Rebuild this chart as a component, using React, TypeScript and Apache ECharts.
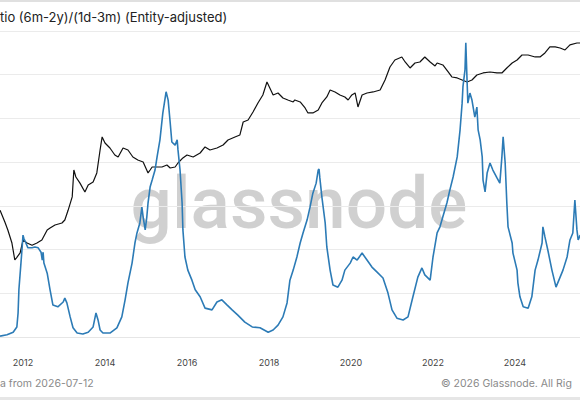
import React, { useEffect, useRef } from "react";
import * as echarts from "echarts";

// Bitcoin price (black, log scale)
const priceYears = [
  2011.44, 2011.56, 2011.63, 2011.73, 2011.8, 2011.85, 2011.93, 2012.0, 2012.1, 2012.22, 2012.34, 2012.46,
  2012.59, 2012.66, 2012.78, 2012.95, 2013.02, 2013.1, 2013.2, 2013.24, 2013.29, 2013.39, 2013.51, 2013.59,
  2013.71, 2013.8, 2013.88, 2013.93, 2014.0, 2014.12, 2014.24, 2014.32, 2014.44, 2014.56, 2014.68, 2014.8,
  2014.93, 2015.05, 2015.1, 2015.15, 2015.27, 2015.39, 2015.51, 2015.59, 2015.71, 2015.78, 2015.9, 2016.0,
  2016.15, 2016.32, 2016.44, 2016.56, 2016.73, 2016.88, 2017.0, 2017.17, 2017.29, 2017.37, 2017.49, 2017.61,
  2017.73, 2017.85, 2017.95, 2018.02, 2018.1, 2018.22, 2018.34, 2018.46, 2018.59, 2018.63, 2018.76, 2018.88,
  2018.95, 2019.07, 2019.2, 2019.29, 2019.41, 2019.49, 2019.61, 2019.73, 2019.85, 2019.93, 2020.02, 2020.1,
  2020.17, 2020.27, 2020.39, 2020.54, 2020.71, 2020.83, 2020.95, 2021.07, 2021.24, 2021.32, 2021.44, 2021.56,
  2021.68, 2021.8, 2021.93, 2022.05, 2022.1, 2022.24, 2022.37, 2022.46, 2022.59, 2022.71, 2022.83, 2022.95,
  2023.07, 2023.22, 2023.39, 2023.56, 2023.68, 2023.8, 2023.93, 2024.05, 2024.17, 2024.32, 2024.49, 2024.61,
  2024.73, 2024.85, 2024.98, 2025.1, 2025.22, 2025.34, 2025.51, 2025.59,
];
const priceValues = [
  26, 14, 9.4, 4.8, 2.0, 2.3, 2.9, 5.6, 4.8, 4.3, 4.8, 5.6,
  9.4, 10.4, 12.2, 13.5, 15.8, 26, 52, 208, 145, 106, 67, 96,
  112, 179, 585, 1146, 840, 649, 452, 407, 649, 585, 407, 349,
  315, 179, 208, 243, 243, 243, 270, 231, 243, 299, 388, 452,
  407, 501, 684, 585, 649, 757, 982, 1146, 1270, 2484, 2754, 4162,
  6622, 10024, 19590, 14388, 10024, 11092, 8570, 7730, 6976, 7730, 6976, 5118,
  3954, 3954, 4614, 6622, 9038, 12972, 11696, 10024, 9038, 7730, 10024, 11092,
  5384, 10024, 11092, 11696, 12972, 21728, 42460, 60960, 71200, 55000, 40360, 52240,
  55000, 71200, 55000, 44780, 52240, 47100, 32820, 25360, 24100, 21728, 19590, 21728,
  28120, 31180, 32820, 31180, 31180, 40360, 52240, 60960, 78900, 78900, 71200, 71200,
  87500, 119400, 119400, 113300, 102300, 132400, 146600, 146600,
];

// Ratio (6m-2y)/(1d-3m) (blue)
const ratioYears = [
  2011.44, 2011.61, 2011.76, 2011.85, 2011.88, 2011.9, 2011.95, 2011.98, 2012.0, 2012.02, 2012.07, 2012.12,
  2012.22, 2012.29, 2012.37, 2012.44, 2012.47, 2012.49, 2012.51, 2012.59, 2012.66, 2012.73, 2012.85, 2012.98,
  2013.02, 2013.07, 2013.15, 2013.22, 2013.32, 2013.46, 2013.59, 2013.71, 2013.78, 2013.83, 2013.88, 2013.95,
  2014.12, 2014.29, 2014.41, 2014.49, 2014.56, 2014.66, 2014.73, 2014.78, 2014.85, 2014.9, 2014.93, 2014.98,
  2015.02, 2015.05, 2015.1, 2015.15, 2015.22, 2015.27, 2015.34, 2015.41, 2015.49, 2015.54, 2015.59, 2015.63,
  2015.71, 2015.76, 2015.78, 2015.83, 2015.88, 2015.9, 2015.95, 2016.02, 2016.12, 2016.2, 2016.32, 2016.44,
  2016.61, 2016.73, 2016.85, 2016.98, 2017.1, 2017.24, 2017.41, 2017.59, 2017.78, 2017.98, 2018.1, 2018.22,
  2018.34, 2018.44, 2018.51, 2018.59, 2018.68, 2018.76, 2018.83, 2018.93, 2019.0, 2019.07, 2019.15, 2019.2,
  2019.22, 2019.24, 2019.29, 2019.37, 2019.41, 2019.49, 2019.56, 2019.68, 2019.78, 2019.85, 2019.98, 2020.05,
  2020.15, 2020.27, 2020.39, 2020.51, 2020.63, 2020.78, 2020.9, 2021.0, 2021.12, 2021.27, 2021.39, 2021.51,
  2021.63, 2021.73, 2021.8, 2021.93, 2022.0, 2022.1, 2022.17, 2022.24, 2022.34, 2022.41, 2022.49, 2022.59,
  2022.66, 2022.71, 2022.73, 2022.78, 2022.8, 2022.83, 2022.85, 2022.9, 2022.95, 2023.02, 2023.07, 2023.1,
  2023.15, 2023.2, 2023.22, 2023.27, 2023.32, 2023.39, 2023.46, 2023.56, 2023.63, 2023.68, 2023.71, 2023.76,
  2023.8, 2023.83, 2023.93, 2023.95, 2024.05, 2024.07, 2024.12, 2024.2, 2024.32, 2024.41, 2024.49, 2024.56,
  2024.66, 2024.68, 2024.73, 2024.8, 2024.9, 2025.0, 2025.1, 2025.17, 2025.27, 2025.34, 2025.41, 2025.46,
  2025.51, 2025.54, 2025.59,
];
const ratioValues = [
  0.02, 0.05, 0.11, 0.23, 0.55, 1.08, 1.69, 2.06, 2.33, 2.26, 2.15, 2.04,
  2.04, 2.06, 2.04, 1.94, 1.76, 1.94, 1.69, 1.46, 1.08, 0.73, 0.69, 0.8,
  0.89, 0.78, 0.46, 0.21, 0.09, 0.07, 0.11, 0.23, 0.55, 0.39, 0.16, 0.09,
  0.09, 0.21, 0.46, 0.85, 1.24, 1.69, 2.15, 2.38, 2.61, 2.97, 2.75, 2.45,
  2.75, 3.07, 3.43, 3.59, 3.82, 4.12, 4.51, 5.12, 5.61, 5.42, 4.9, 4.46,
  4.39, 4.51, 4.28, 3.82, 3.07, 2.45, 1.83, 1.53, 1.3, 1.08, 0.92, 0.66,
  0.62, 0.8, 0.85, 0.73, 0.62, 0.5, 0.34, 0.23, 0.21, 0.11, 0.16, 0.27,
  0.46, 0.78, 1.3, 1.53, 1.83, 2.15, 2.38, 2.68, 2.97, 3.29, 3.52, 3.82,
  3.84, 3.64, 3.2, 2.61, 2.06, 1.53, 1.19, 1.14, 1.3, 1.53, 1.69, 1.83,
  1.76, 1.92, 1.76, 1.6, 1.49, 1.35, 1.01, 0.62, 0.43, 0.39, 0.46, 0.92,
  1.37, 1.58, 1.42, 1.3, 1.83, 2.38, 2.52, 2.75, 3.07, 3.36, 3.66, 4.12,
  4.74, 5.35, 5.72, 6.11, 6.73, 5.88, 5.35, 5.58, 5.42, 5.03, 5.26, 4.74,
  4.51, 4.12, 3.59, 3.32, 3.75, 3.98, 3.82, 3.64, 3.52, 4.12, 4.58, 3.98,
  3.07, 2.52, 2.15, 1.92, 1.53, 1.24, 0.92, 0.69, 0.66, 0.92, 1.53, 1.76,
  2.15, 2.52, 2.29, 1.99, 1.53, 1.14, 1.37, 1.53, 1.83, 2.22, 2.38, 3.13,
  2.45, 2.22, 2.33,
];

// visible x range (the chart is cropped at both sides) and year labels
const xMin = 2011.439;
const xMax = 2025.585;
const yearLabels = [2012, 2014, 2016, 2018, 2020, 2022, 2024];

const titleText = "tio (6m-2y)/(1d-3m) (Entity-adjusted)";
const footerLeft = "a from 2026-07-12";
const footerRight = "© 2026 Glassnode. All Rig";
const watermark = "glassnode";

export default function App() {
  const ref = useRef<HTMLDivElement>(null);

  useEffect(() => {
    document.body.style.margin = "0";
    const chart = echarts.init(ref.current as HTMLDivElement, undefined, { renderer: "svg" });
    const font = "Inter, 'Noto Sans', sans-serif";
    chart.setOption({
      animation: false,
      backgroundColor: "#ffffff",
      grid: { left: 0, right: 0, top: 31, bottom: 63, containLabel: false },
      xAxis: {
        type: "value",
        min: xMin,
        max: xMax,
        offset: 15,
        axisLine: { show: true, lineStyle: { color: "#e6e6e6", width: 1 } },
        axisTick: { show: false, customValues: yearLabels },
        splitLine: { show: false },
        axisLabel: {
          customValues: yearLabels,
          margin: 6,
          fontSize: 9,
          fontFamily: font,
          color: "#444",
          formatter: (v: number) => String(Math.round(v)),
        },
      },
      yAxis: [
        {
          type: "value",
          min: 0,
          max: 7,
          interval: 1,
          axisLine: { show: false },
          axisTick: { show: false },
          axisLabel: { show: false },
          splitLine: { show: true, lineStyle: { color: "#ebebeb", width: 1 } },
        },
        {
          type: "log",
          logBase: 10,
          min: 0.0376,
          max: 272000,
          show: false,
          splitLine: { show: false },
        },
      ],
      graphic: [
        { type: "rect", shape: { x: 0, y: 0, width: 580, height: 2 }, style: { fill: "#e0e0e0" }, silent: true },
        { type: "rect", shape: { x: 0, y: 397, width: 580, height: 3 }, style: { fill: "#e6e6e6" }, silent: true },
        {
          type: "text",
          x: 299,
          y: 203,
          z: -10,
          silent: true,
          style: {
            text: watermark,
            fontSize: 73,
            fontWeight: 500,
            fontFamily: "Roboto, sans-serif",
            fill: "#c8c8c8",
            opacity: 0.85,
            align: "center",
            verticalAlign: "middle",
          },
        },
        {
          type: "text",
          x: 0,
          y: 17,
          silent: true,
          style: { text: titleText, fontSize: 13, fontFamily: font, fill: "#222", align: "left", verticalAlign: "middle" },
        },
        {
          type: "text",
          x: 0,
          y: 383,
          silent: true,
          style: { text: footerLeft, fontSize: 10.5, fontFamily: font, fill: "#8a8a8a", align: "left", verticalAlign: "middle" },
        },
        {
          type: "text",
          x: 441,
          y: 383,
          silent: true,
          style: { text: footerRight, fontSize: 10.5, fontFamily: font, fill: "#8a8a8a", align: "left", verticalAlign: "middle" },
        },
      ],
      series: [
        {
          name: "Price",
          type: "line",
          yAxisIndex: 1,
          showSymbol: false,
          symbol: "none",
          lineStyle: { color: "#111111", width: 1.2 },
          data: priceYears.map((y, i) => [y, priceValues[i]]),
          z: 3,
        },
        {
          name: "Ratio",
          type: "line",
          yAxisIndex: 0,
          showSymbol: false,
          symbol: "none",
          lineStyle: { color: "#2c7bb6", width: 1.6 },
          data: ratioYears.map((y, i) => [y, ratioValues[i]]),
          z: 4,
        },
      ],
    });
    return () => chart.dispose();
  }, []);

  return <div ref={ref} style={{ position: "fixed", left: 0, top: 0, width: 580, height: 400 }} />;
}
